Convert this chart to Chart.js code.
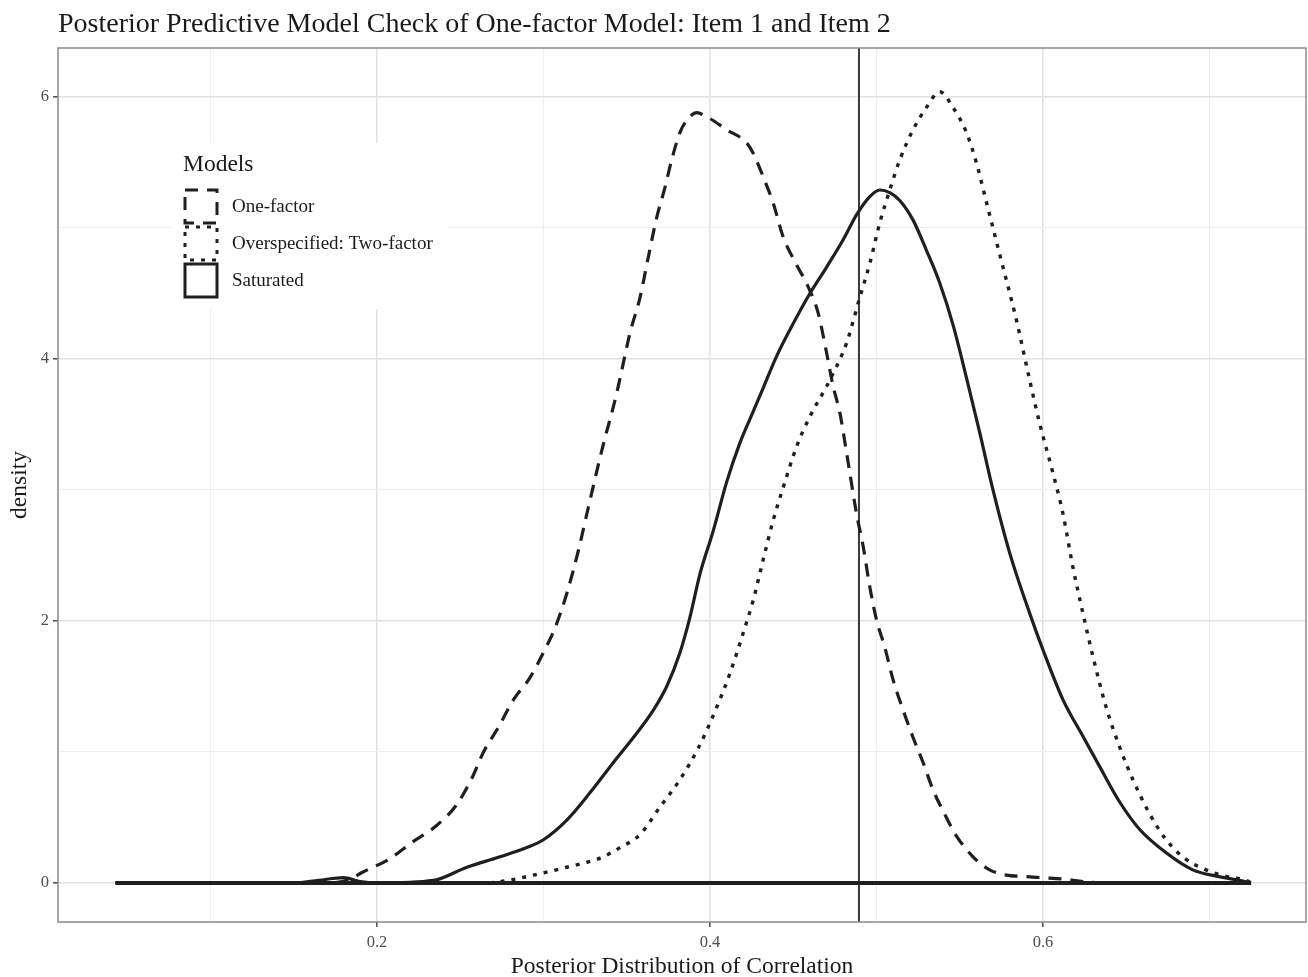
<!DOCTYPE html>
<html>
<head>
<meta charset="utf-8">
<script src="https://cdn.jsdelivr.net/npm/chart.js@4.4.1/dist/chart.umd.min.js"></script>
<style>
  body { margin: 0; background: #fff; }
  canvas { display: block; }
</style>
</head>
<body>
<canvas id="myChart" width="1308" height="977"></canvas>
<script>
const chartTitle = "Posterior Predictive Model Check of One-factor Model: Item 1 and Item 2";
const seriesNames = ["One-factor", "Overspecified: Two-factor", "Saturated"];

// one-factor model (dashed)
const oneFactorX = [0.043, 0.17, 0.184, 0.191, 0.207, 0.221, 0.236, 0.248, 0.257, 0.264, 0.273, 0.282, 0.292, 0.300, 0.307, 0.314, 0.321, 0.327, 0.335, 0.344, 0.352, 0.358, 0.363, 0.368, 0.373, 0.377, 0.382, 0.386, 0.392, 0.398, 0.410, 0.422, 0.426, 0.432, 0.438, 0.444, 0.452, 0.459, 0.465, 0.470, 0.474, 0.478, 0.483, 0.488, 0.492, 0.496, 0.500, 0.505, 0.510, 0.516, 0.522, 0.528, 0.534, 0.540, 0.548, 0.558, 0.568, 0.578, 0.588, 0.600, 0.612, 0.625, 0.640, 0.725];
const oneFactorY = [0, 0, 0.03, 0.08, 0.18, 0.31, 0.44, 0.60, 0.80, 1.00, 1.19, 1.40, 1.57, 1.76, 1.95, 2.21, 2.54, 2.87, 3.30, 3.74, 4.20, 4.47, 4.78, 5.08, 5.31, 5.52, 5.73, 5.82, 5.88, 5.85, 5.75, 5.65, 5.57, 5.39, 5.19, 4.93, 4.72, 4.55, 4.35, 4.05, 3.79, 3.59, 3.21, 2.82, 2.57, 2.26, 2.01, 1.80, 1.55, 1.32, 1.11, 0.92, 0.71, 0.55, 0.36, 0.20, 0.10, 0.06, 0.05, 0.04, 0.03, 0.01, 0, 0];

// two-factor model (dotted)
const twoFactorX = [0.043, 0.26, 0.274, 0.294, 0.314, 0.334, 0.346, 0.358, 0.370, 0.382, 0.393, 0.404, 0.412, 0.420, 0.426, 0.432, 0.438, 0.444, 0.452, 0.460, 0.470, 0.474, 0.482, 0.490, 0.496, 0.502, 0.508, 0.514, 0.522, 0.530, 0.538, 0.546, 0.554, 0.560, 0.566, 0.574, 0.584, 0.592, 0.598, 0.606, 0.612, 0.618, 0.624, 0.630, 0.638, 0.646, 0.654, 0.664, 0.674, 0.686, 0.698, 0.710, 0.722, 0.725];
const twoFactorY = [0, 0, 0.01, 0.06, 0.12, 0.19, 0.27, 0.37, 0.58, 0.79, 1.03, 1.34, 1.60, 1.91, 2.16, 2.47, 2.77, 3.02, 3.33, 3.56, 3.79, 3.89, 4.12, 4.47, 4.73, 5.04, 5.29, 5.52, 5.75, 5.92, 6.04, 5.92, 5.73, 5.50, 5.20, 4.80, 4.30, 3.84, 3.51, 3.13, 2.82, 2.41, 2.06, 1.73, 1.34, 1.04, 0.79, 0.53, 0.33, 0.18, 0.10, 0.05, 0.02, 0];

// saturated model (solid)
const saturatedX = [0.043, 0.15, 0.165, 0.18, 0.19, 0.20, 0.234, 0.254, 0.274, 0.290, 0.300, 0.314, 0.328, 0.342, 0.354, 0.366, 0.374, 0.382, 0.388, 0.394, 0.402, 0.410, 0.418, 0.426, 0.432, 0.440, 0.450, 0.460, 0.470, 0.480, 0.488, 0.496, 0.502, 0.508, 0.514, 0.522, 0.530, 0.538, 0.546, 0.554, 0.562, 0.570, 0.580, 0.592, 0.600, 0.612, 0.624, 0.634, 0.646, 0.658, 0.674, 0.690, 0.705, 0.718, 0.725];
const saturatedY = [0, 0, 0.02, 0.04, 0.01, 0, 0.02, 0.12, 0.20, 0.27, 0.33, 0.48, 0.69, 0.92, 1.11, 1.32, 1.50, 1.76, 2.03, 2.36, 2.69, 3.06, 3.36, 3.60, 3.78, 4.02, 4.27, 4.50, 4.70, 4.91, 5.10, 5.24, 5.29, 5.27, 5.21, 5.06, 4.83, 4.58, 4.26, 3.86, 3.44, 3.00, 2.52, 2.06, 1.78, 1.40, 1.12, 0.89, 0.62, 0.41, 0.23, 0.10, 0.05, 0.02, 0];

const baselineX = [0.043, 0.725];
const observedR = 0.4895;

const xGridValues = [0.1, 0.2, 0.3, 0.4, 0.5, 0.6, 0.7];
const xTickLabels = ["0.2", "0.4", "0.6"];
const yGridValues = [0, 1, 2, 3, 4, 5, 6];
const yTickLabels = ["0", "2", "4", "6"];

const lineColor = "#1f1f1f";
const serif = "'Liberation Serif', 'DejaVu Serif', serif";

function toPoints(xs, ys) {
  return xs.map((x, i) => ({ x: x, y: ys[i] }));
}

function isMajor(value) {
  const v = String(+value.toFixed(3));
  return xTickLabels.includes(v) || yTickLabels.includes(v);
}

// vertical line, panel border, title and the legend box
const extras = {
  id: "extras",
  beforeDatasetsDraw(chart) {
    const { ctx, chartArea, scales } = chart;
    const px = scales.x.getPixelForValue(observedR);
    ctx.save();
    ctx.strokeStyle = "#3a3a3a";
    ctx.lineWidth = 2;
    ctx.beginPath();
    ctx.moveTo(px, chartArea.top);
    ctx.lineTo(px, chartArea.bottom);
    ctx.stroke();
    ctx.restore();
  },
  afterDraw(chart) {
    const { ctx, chartArea } = chart;
    ctx.save();
    ctx.strokeStyle = "#8a8a8a";
    ctx.lineWidth = 1.5;
    ctx.strokeRect(chartArea.left, chartArea.top, chartArea.right - chartArea.left, chartArea.bottom - chartArea.top);

    ctx.fillStyle = "#1a1a1a";
    ctx.font = "28px " + serif;
    ctx.textBaseline = "alphabetic";
    ctx.fillText(chartTitle, 58, 32);

    // legend
    ctx.fillStyle = "#fff";
    ctx.fillRect(172, 143, 275, 166);
    ctx.fillStyle = "#1a1a1a";
    ctx.font = "23.5px " + serif;
    ctx.textBaseline = "middle";
    ctx.fillText("Models", 183, 165);
    ctx.font = "19px " + serif;
    chart.data.datasets.slice(0, 3).forEach((ds, i) => {
      const top = 188 + i * 37;
      ctx.strokeStyle = ds.borderColor;
      ctx.lineWidth = 3;
      ctx.setLineDash(ds.borderDash || []);
      ctx.strokeRect(185, top + 2, 32, 33);
      ctx.setLineDash([]);
      ctx.fillText(ds.label, 232, top + 19);
    });
    ctx.restore();
  },
};

const ctx = document.getElementById("myChart");

new Chart(ctx, {
  type: "scatter",
  data: {
    datasets: [
      {
        label: seriesNames[0],
        data: toPoints(oneFactorX, oneFactorY),
        borderColor: lineColor,
        borderWidth: 3.2,
        borderDash: [13, 9],
      },
      {
        label: seriesNames[1],
        data: toPoints(twoFactorX, twoFactorY),
        borderColor: lineColor,
        borderWidth: 3.4,
        borderDash: [4, 7],
      },
      {
        label: seriesNames[2],
        data: toPoints(saturatedX, saturatedY),
        borderColor: lineColor,
        borderWidth: 3.2,
      },
      {
        label: "baseline",
        data: toPoints(baselineX, [0, 0]),
        borderColor: lineColor,
        borderWidth: 4,
      },
    ],
  },
  options: {
    responsive: false,
    animation: false,
    showLine: true,
    elements: {
      point: { radius: 0, hoverRadius: 0 },
      line: { cubicInterpolationMode: "monotone", fill: false },
    },
    layout: { padding: { top: 48, right: 2, left: 0, bottom: 0 } },
    plugins: {
      legend: { display: false },
      tooltip: { enabled: false },
      title: { display: false },
    },
    scales: {
      x: {
        type: "linear",
        min: 0.0084,
        max: 0.758,
        afterBuildTicks: (s) => { s.ticks = xGridValues.map((v) => ({ value: v })); },
        afterFit: (s) => { s.height = 55; },
        ticks: {
          autoSkip: false,
          maxRotation: 0,
          padding: 6,
          color: "#4d4d4d",
          font: { family: serif, size: 16.5 },
          callback: (v) => (isMajor(v) ? String(+v.toFixed(1)) : ""),
        },
        grid: {
          color: (c) => (isMajor(c.tick.value) ? "#e2e2e2" : "#eeeeee"),
          lineWidth: (c) => (isMajor(c.tick.value) ? 1.6 : 1),
          tickColor: (c) => (isMajor(c.tick.value) ? "#555" : "rgba(0,0,0,0)"),
          tickLength: 5,
        },
        border: { display: false },
        title: {
          display: true,
          text: "Posterior Distribution of Correlation",
          color: "#1a1a1a",
          font: { family: serif, size: 23.5, lineHeight: 0.9 },
          padding: { top: 0, bottom: 0 },
        },
      },
      y: {
        type: "linear",
        min: -0.298,
        max: 6.374,
        afterBuildTicks: (s) => { s.ticks = yGridValues.map((v) => ({ value: v })); },
        afterFit: (s) => { s.width = 58; },
        ticks: {
          autoSkip: false,
          padding: 4,
          color: "#4d4d4d",
          font: { family: serif, size: 16.5 },
          callback: (v) => (isMajor(v) ? String(v) : ""),
        },
        grid: {
          color: (c) => (isMajor(c.tick.value) ? "#e2e2e2" : "#eeeeee"),
          lineWidth: (c) => (isMajor(c.tick.value) ? 1.6 : 1),
          tickColor: (c) => (isMajor(c.tick.value) ? "#555" : "rgba(0,0,0,0)"),
          tickLength: 5,
        },
        border: { display: false },
        title: {
          display: true,
          text: "density",
          color: "#1a1a1a",
          font: { family: serif, size: 23.5 },
          padding: { top: 6, bottom: 0 },
        },
      },
    },
  },
  plugins: [extras],
});
</script>
</body>
</html>
